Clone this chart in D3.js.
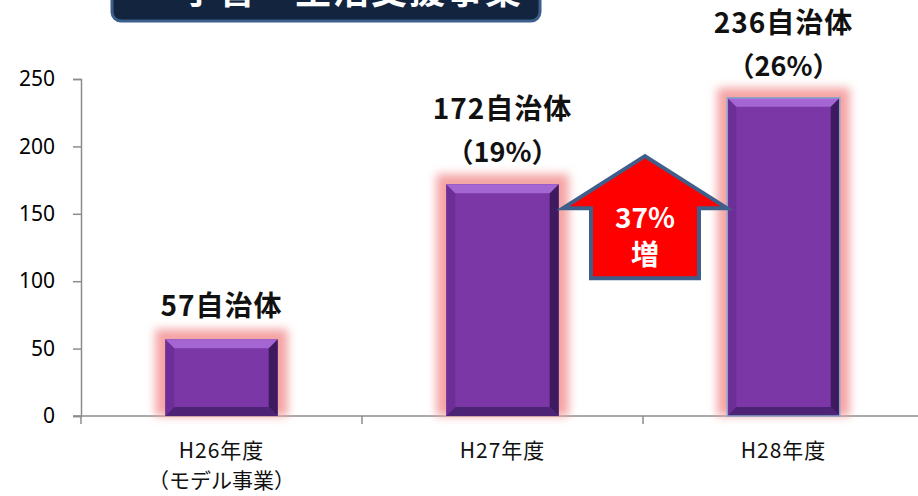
<!DOCTYPE html>
<html>
<head>
<meta charset="utf-8">
<script src="https://cdn.jsdelivr.net/npm/d3@7"></script>
<style>
  body { margin: 0; background: #fff; }
  svg { display: block; font-family: "Noto Sans CJK JP", "Noto Sans", sans-serif; }
</style>
</head>
<body>
<div id="chart"></div>
<script>
// data
var categories = ["H26年度", "H27年度", "H28年度"];
var subLabels = ["（モデル事業）", "", ""];
var values = [57, 172, 236];
var valueLabels = ["57自治体", "172自治体", "236自治体"];
var shareLabels = ["", "（19%）", "（26%）"];
var yTicks = [0, 50, 100, 150, 200, 250];
var growthLabel = ["37%", "増"];
var title = "学習・生活支援事業";

var width = 918, height = 496;
var margin = {top: 79, right: -6, bottom: 80, left: 81};

var svg = d3.select("#chart").append("svg")
    .attr("width", width)
    .attr("height", height);

var defs = svg.append("defs");
var blur = defs.append("filter").attr("id", "glow")
    .attr("x", "-50%").attr("y", "-50%").attr("width", "200%").attr("height", "200%");
blur.append("feGaussianBlur").attr("stdDeviation", 5);

var x = d3.scaleBand()
    .domain(categories)
    .range([margin.left, width - margin.right])
    .paddingInner(0.6)
    .paddingOuter(0.3);

var y = d3.scaleLinear()
    .domain([0, 250])
    .range([height - margin.bottom, margin.top]);

// title box (cut off at top, like the slide)
svg.append("rect")
    .attr("x", 112).attr("y", -40)
    .attr("width", 428).attr("height", 61)
    .attr("rx", 9)
    .attr("fill", "#13243f")
    .attr("stroke", "#3d5f8c")
    .attr("stroke-width", 3);
svg.append("text")
    .attr("x", 352).attr("y", 4)
    .attr("text-anchor", "middle")
    .attr("fill", "#fff")
    .attr("font-size", 36)
    .attr("font-weight", "bold")
    .attr("letter-spacing", 2)
    .text(title);

// y axis
var yAxis = svg.append("g")
    .attr("transform", "translate(" + margin.left + ",0)")
    .call(d3.axisLeft(y).tickValues(yTicks).tickSize(8).tickPadding(18));
yAxis.selectAll("path, line").attr("stroke", "#8c8c8c").attr("stroke-width", 1.5);
yAxis.selectAll("text").attr("font-size", 21).attr("fill", "#000")
    .attr("font-family", "Noto Sans, sans-serif");

// x axis line and ticks at band boundaries
var x0 = y(0);
var step = x.step();
svg.append("line")
    .attr("x1", margin.left - 8).attr("x2", width)
    .attr("y1", x0).attr("y2", x0)
    .attr("stroke", "#8c8c8c").attr("stroke-width", 1.5);
svg.selectAll(".xtick")
    .data(categories)
    .enter().append("line")
    .attr("x1", function(d) { return x(d) + x.bandwidth() / 2 - step / 2; })
    .attr("x2", function(d) { return x(d) + x.bandwidth() / 2 - step / 2; })
    .attr("y1", x0).attr("y2", x0 + 8)
    .attr("stroke", "#8c8c8c").attr("stroke-width", 1.5);

// glow behind bars
var pad = 10;
svg.selectAll(".glow")
    .data(values)
    .enter().append("rect")
    .attr("x", function(d, i) { return x(categories[i]) - pad; })
    .attr("y", function(d) { return y(d) - pad; })
    .attr("width", x.bandwidth() + pad * 2)
    .attr("height", function(d) { return y(0) - y(d) + pad; })
    .attr("fill", "#f4a3a3")
    .attr("filter", "url(#glow)");

// bars with bevel
var bev = 9;
var bar = svg.selectAll(".bar")
    .data(values)
    .enter().append("g")
    .attr("class", "bar");

bar.append("rect")
    .attr("x", function(d, i) { return x(categories[i]); })
    .attr("y", function(d) { return y(d); })
    .attr("width", x.bandwidth())
    .attr("height", function(d) { return y(0) - y(d); })
    .attr("fill", "#7a37a5");

function bevel(d, i, side) {
    var l = x(categories[i]), r = l + x.bandwidth(), t = y(d), b = y(0);
    var pts;
    if (side == "top") pts = [[l, t], [r, t], [r - bev, t + bev], [l + bev, t + bev]];
    if (side == "bottom") pts = [[l, b], [r, b], [r - bev, b - bev], [l + bev, b - bev]];
    if (side == "left") pts = [[l, t], [l + bev, t + bev], [l + bev, b - bev], [l, b]];
    if (side == "right") pts = [[r, t], [r - bev, t + bev], [r - bev, b - bev], [r, b]];
    return pts.join(" ");
}
var bevelColors = {top: "#a466d2", left: "#6d2f97", right: "#3e1a5e", bottom: "#4d2376"};
["left", "right", "top", "bottom"].forEach(function(side) {
    bar.append("polygon")
        .attr("points", function(d, i) { return bevel(d, i, side); })
        .attr("fill", bevelColors[side]);
});
bar.filter(function(d, i) { return i == 2; }).append("rect")
    .attr("x", function(d) { return x(categories[2]); })
    .attr("y", function(d) { return y(d); })
    .attr("width", x.bandwidth())
    .attr("height", function(d) { return y(0) - y(d); })
    .attr("fill", "none")
    .attr("stroke", "#86a4cc")
    .attr("stroke-width", 1.5);

// value labels
svg.selectAll(".vlabel")
    .data(values)
    .enter().append("text")
    .attr("x", function(d, i) { return x(categories[i]) + x.bandwidth() / 2; })
    .attr("y", function(d, i) { return y(d) - (shareLabels[i] ? 65 : 23); })
    .attr("text-anchor", "middle")
    .attr("font-size", 28)
    .attr("font-weight", "bold")
    .attr("letter-spacing", 1)
    .attr("fill", "#111")
    .text(function(d, i) { return valueLabels[i]; });
svg.selectAll(".slabel")
    .data(values)
    .enter().append("text")
    .attr("x", function(d, i) { return x(categories[i]) + x.bandwidth() / 2; })
    .attr("y", function(d) { return y(d) - 22; })
    .attr("text-anchor", "middle")
    .attr("font-size", 27)
    .attr("font-weight", "bold")
    .attr("fill", "#111")
    .text(function(d, i) { return shareLabels[i]; });

// category labels
svg.selectAll(".clabel")
    .data(categories)
    .enter().append("text")
    .attr("x", function(d) { return x(d) + x.bandwidth() / 2; })
    .attr("y", x0 + 42)
    .attr("text-anchor", "middle")
    .attr("font-size", 21)
    .attr("letter-spacing", 1)
    .attr("fill", "#111")
    .text(function(d) { return d; });
svg.selectAll(".sublabel")
    .data(subLabels)
    .enter().append("text")
    .attr("x", function(d, i) { return x(categories[i]) + x.bandwidth() / 2; })
    .attr("y", x0 + 72)
    .attr("text-anchor", "middle")
    .attr("font-size", 21)
    .attr("fill", "#111")
    .text(function(d) { return d; });

// growth arrow between H27 and H28
var ax = (x(categories[1]) + x.bandwidth() + x(categories[2])) / 2 + 2;
var arrowTop = y(values[1]) - 28, wingY = y(values[1]) + 24, arrowBottom = y(values[1]) + 94;
var half = 82, shaft = 54;
svg.append("polygon")
    .attr("points", [
        [ax, arrowTop], [ax + half, wingY], [ax + shaft, wingY], [ax + shaft, arrowBottom],
        [ax - shaft, arrowBottom], [ax - shaft, wingY], [ax - half, wingY]
    ].join(" "))
    .attr("fill", "#ff0000")
    .attr("stroke", "#3f5f8a")
    .attr("stroke-width", 4)
    .attr("stroke-linejoin", "miter");
svg.selectAll(".glabel")
    .data(growthLabel)
    .enter().append("text")
    .attr("x", ax)
    .attr("y", function(d, i) { return wingY + 20 + i * 37; })
    .attr("text-anchor", "middle")
    .attr("font-size", 28)
    .attr("font-weight", "bold")
    .attr("fill", "#fff")
    .text(function(d) { return d; });
</script>
</body>
</html>
